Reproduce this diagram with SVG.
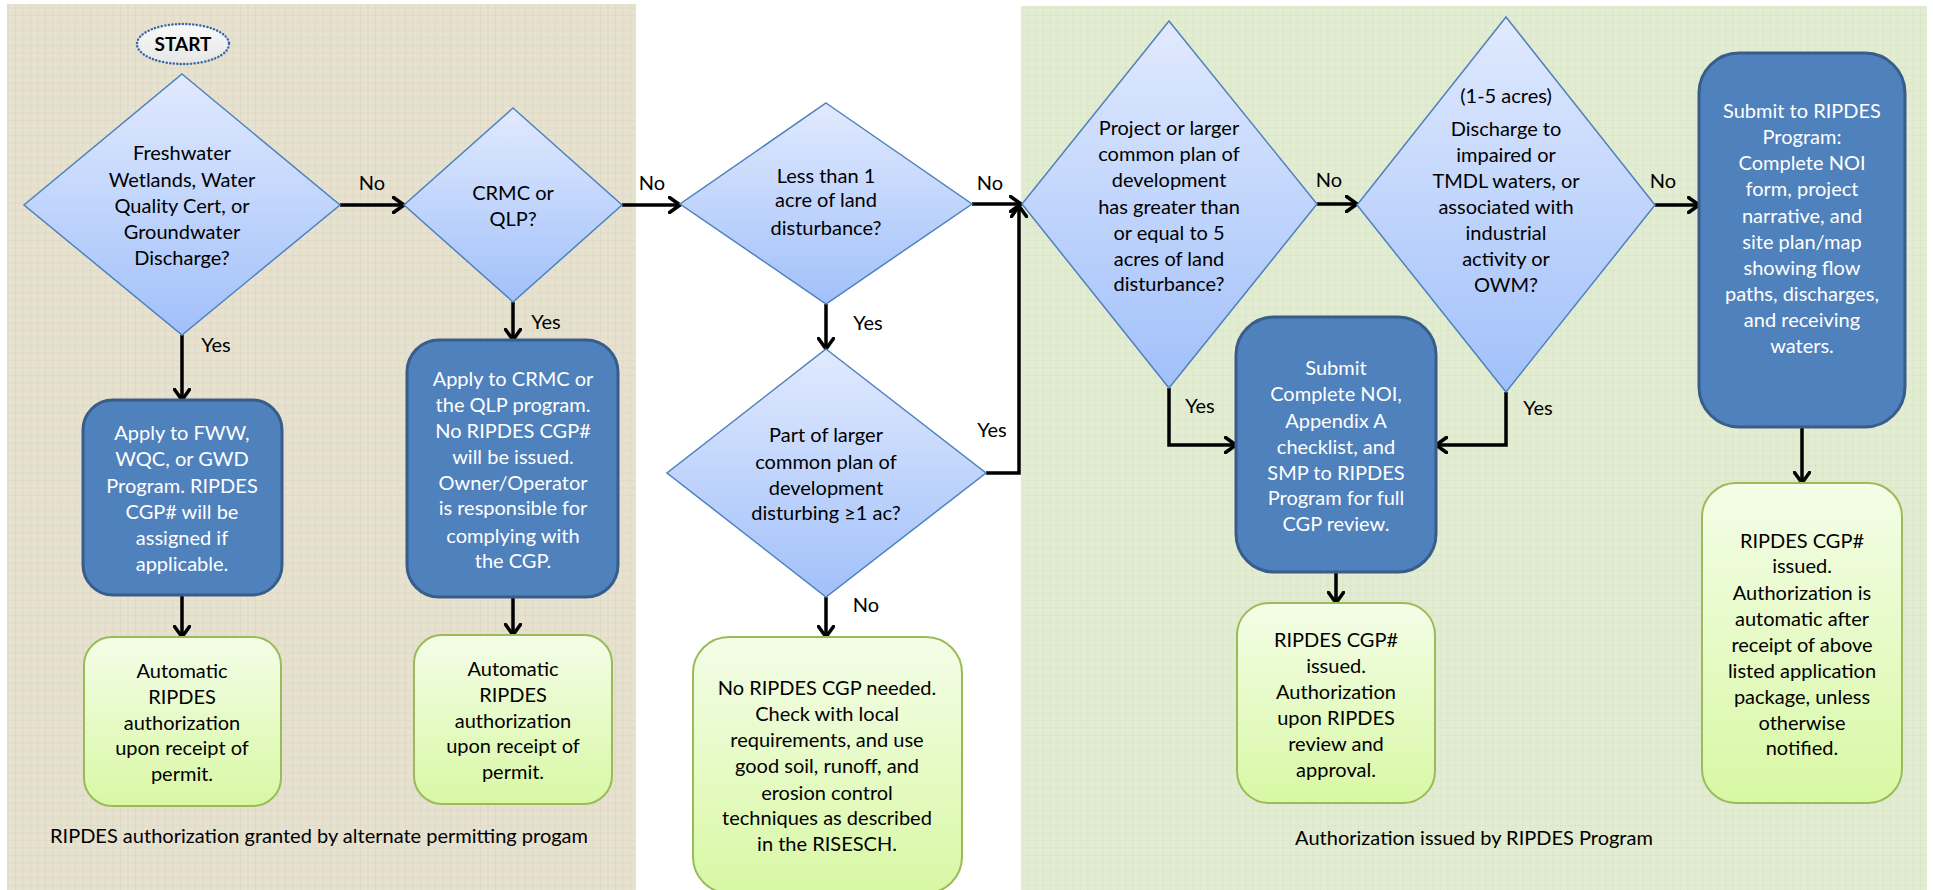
<svg xmlns="http://www.w3.org/2000/svg" width="1933" height="890" viewBox="0 0 1933 890">
<defs>
  <pattern id="gridBeige" width="7.5" height="7.5" patternUnits="userSpaceOnUse">
    <rect width="7.5" height="7.5" fill="#e7e2d0"/>
    <path d="M0,0 H7.5 M0,0 V7.5" stroke="#d9d3bd" stroke-width="1" fill="none"/>
  </pattern>
  <pattern id="gridGreen" width="7.5" height="7.5" patternUnits="userSpaceOnUse">
    <rect width="7.5" height="7.5" fill="#e2ecd2"/>
    <path d="M0,0 H7.5 M0,0 V7.5" stroke="#d5e3be" stroke-width="1" fill="none"/>
  </pattern>
  <linearGradient id="gDiamond" x1="0" y1="0" x2="0" y2="1">
    <stop offset="0" stop-color="#e1eafe"/>
    <stop offset="1" stop-color="#a1c0fa"/>
  </linearGradient>
  <linearGradient id="gGreen" x1="0" y1="0" x2="0" y2="1">
    <stop offset="0" stop-color="#f4fde8"/>
    <stop offset="1" stop-color="#d8f8a4"/>
  </linearGradient>
  <linearGradient id="gStart" x1="0" y1="0" x2="0" y2="1">
    <stop offset="0" stop-color="#fafafa"/>
    <stop offset="1" stop-color="#e6e6e6"/>
  </linearGradient>
  <marker id="arr" viewBox="0 0 14 18" refX="12" refY="9" markerWidth="14" markerHeight="18" markerUnits="userSpaceOnUse" orient="auto">
    <path d="M1.5,1.5 L12,9 L1.5,16.5" fill="none" stroke="#000" stroke-width="3.5" stroke-linecap="round" stroke-linejoin="round"/>
  </marker>
  <style>
    .t { font-family: Lato, "Liberation Sans", sans-serif; font-size: 20px; text-anchor: middle; fill: #000; }
    .w { fill: #ffffff; }
    .lbl { font-family: Lato, "Liberation Sans", sans-serif; font-size: 20px; text-anchor: middle; fill: #000; }
    .dia { fill: url(#gDiamond); stroke: #4f81bd; stroke-width: 1.5; }
    .blue { fill: #4f81bd; stroke: #385d8a; stroke-width: 3; }
    .green { fill: url(#gGreen); stroke: #9bbb59; stroke-width: 2; }
    .con { fill: none; stroke: #000; stroke-width: 3.5; marker-end: url(#arr); }
  </style>
</defs>

<rect width="1933" height="890" fill="#ffffff"/>
<g id="panels">
  <rect x="7" y="4" width="629" height="886" fill="url(#gridBeige)"/>
  <rect x="1021" y="6" width="906" height="884" fill="url(#gridGreen)"/>
</g>

<g id="connectors">
  <path class="con" d="M340,205 H404"/>
  <path class="con" d="M182,335 V400"/>
  <path class="con" d="M622,205 H680"/>
  <path class="con" d="M513,302 V340"/>
  <path class="con" d="M182,595 V637"/>
  <path class="con" d="M513,597 V635"/>
  <path class="con" d="M972,204 H1021"/>
  <path class="con" d="M826,304 V349"/>
  <path class="con" d="M986,473 H1019 V206"/>
  <path class="con" d="M826,597 V637"/>
  <path class="con" d="M1317,204 H1357"/>
  <path class="con" d="M1169,388 V445 H1236"/>
  <path class="con" d="M1506,392 V445 H1436"/>
  <path class="con" d="M1655,205 H1699"/>
  <path class="con" d="M1336,572 V603"/>
  <path class="con" d="M1802,427 V483"/>
  <text class="lbl" x="372" y="190">No</text>
  <text class="lbl" x="216" y="352">Yes</text>
  <text class="lbl" x="652" y="190">No</text>
  <text class="lbl" x="546" y="329">Yes</text>
  <text class="lbl" x="990" y="190">No</text>
  <text class="lbl" x="868" y="330">Yes</text>
  <text class="lbl" x="992" y="437">Yes</text>
  <text class="lbl" x="866" y="612">No</text>
  <text class="lbl" x="1329" y="187">No</text>
  <text class="lbl" x="1200" y="413">Yes</text>
  <text class="lbl" x="1538" y="415">Yes</text>
  <text class="lbl" x="1663" y="188">No</text>
</g>

<g id="start">
  <ellipse cx="183" cy="44" rx="46" ry="20" fill="url(#gStart)" stroke="#3d68a8" stroke-width="2.5" stroke-dasharray="0.1 3.4" stroke-linecap="round"/>
  <text class="t" x="183" y="51" style="font-weight:bold;font-size:19px">START</text>
</g>

<g id="d-freshwater">
  <polygon class="dia" points="182,74 340,205 182,335 24,205"/>
  <text class="t"><tspan x="182" y="160">Freshwater</tspan><tspan x="182" y="187">Wetlands, Water</tspan><tspan x="182" y="213">Quality Cert, or</tspan><tspan x="182" y="239">Groundwater</tspan><tspan x="182" y="265">Discharge?</tspan></text>
</g>

<g id="d-crmc">
  <polygon class="dia" points="513,108 622,205 513,302 404,205"/>
  <text class="t"><tspan x="513" y="200">CRMC or</tspan><tspan x="513" y="226">QLP?</tspan></text>
</g>

<g id="b-fww">
  <rect class="blue" x="83" y="400" width="199" height="195" rx="30"/>
  <text class="t w"><tspan x="182" y="440">Apply to FWW,</tspan><tspan x="182" y="466">WQC, or GWD</tspan><tspan x="182" y="493">Program. RIPDES</tspan><tspan x="182" y="519">CGP# will be</tspan><tspan x="182" y="545">assigned if</tspan><tspan x="182" y="571">applicable.</tspan></text>
</g>

<g id="b-crmc">
  <rect class="blue" x="407" y="340" width="211" height="257" rx="32"/>
  <text class="t w"><tspan x="513" y="386">Apply to CRMC or</tspan><tspan x="513" y="412">the QLP program.</tspan><tspan x="513" y="438">No RIPDES CGP#</tspan><tspan x="513" y="464">will be issued.</tspan><tspan x="513" y="490">Owner/Operator</tspan><tspan x="513" y="515">is responsible for</tspan><tspan x="513" y="543">complying with</tspan><tspan x="513" y="568">the CGP.</tspan></text>
</g>

<g id="g-auto1">
  <rect class="green" x="84" y="637" width="197" height="169" rx="28"/>
  <text class="t"><tspan x="182" y="678">Automatic</tspan><tspan x="182" y="704">RIPDES</tspan><tspan x="182" y="730">authorization</tspan><tspan x="182" y="755">upon receipt of</tspan><tspan x="182" y="781">permit.</tspan></text>
</g>

<g id="g-auto2">
  <rect class="green" x="414" y="635" width="198" height="169" rx="28"/>
  <text class="t"><tspan x="513" y="676">Automatic</tspan><tspan x="513" y="702">RIPDES</tspan><tspan x="513" y="728">authorization</tspan><tspan x="513" y="753">upon receipt of</tspan><tspan x="513" y="779">permit.</tspan></text>
</g>

<text id="cap-left" class="t" x="319" y="843">RIPDES authorization granted by alternate permitting progam</text>

<g id="d-less">
  <polygon class="dia" points="826,103 972,204 826,304 680,204"/>
  <text class="t"><tspan x="826" y="183">Less than 1</tspan><tspan x="826" y="207">acre of land</tspan><tspan x="826" y="235">disturbance?</tspan></text>
</g>

<g id="d-part">
  <polygon class="dia" points="826,349 986,473 826,597 667,473"/>
  <text class="t"><tspan x="826" y="442">Part of larger</tspan><tspan x="826" y="469">common plan of</tspan><tspan x="826" y="495">development</tspan><tspan x="826" y="520">disturbing ≥1 ac?</tspan></text>
</g>

<g id="g-none">
  <rect class="green" x="693" y="637" width="269" height="256" rx="36"/>
  <text class="t"><tspan x="827" y="695">No RIPDES CGP needed.</tspan><tspan x="827" y="721">Check with local</tspan><tspan x="827" y="747">requirements, and use</tspan><tspan x="827" y="773">good soil, runoff, and</tspan><tspan x="827" y="800">erosion control</tspan><tspan x="827" y="825">techniques as described</tspan><tspan x="827" y="851">in the RISESCH.</tspan></text>
</g>

<g id="d-project">
  <polygon class="dia" points="1169,21 1317,204 1169,388 1022,204"/>
  <text class="t"><tspan x="1169" y="135">Project or larger</tspan><tspan x="1169" y="161">common plan of</tspan><tspan x="1169" y="187">development</tspan><tspan x="1169" y="214">has greater than</tspan><tspan x="1169" y="240">or equal to 5</tspan><tspan x="1169" y="266">acres of land</tspan><tspan x="1169" y="291">disturbance?</tspan></text>
</g>

<g id="d-discharge">
  <polygon class="dia" points="1506,17 1655,205 1506,392 1357,205"/>
  <text class="t"><tspan x="1506" y="103">(1-5 acres)</tspan><tspan x="1506" y="136">Discharge to</tspan><tspan x="1506" y="162">impaired or</tspan><tspan x="1506" y="188">TMDL waters, or</tspan><tspan x="1506" y="214">associated with</tspan><tspan x="1506" y="240">industrial</tspan><tspan x="1506" y="266">activity or</tspan><tspan x="1506" y="292">OWM?</tspan></text>
</g>

<g id="b-submit">
  <rect class="blue" x="1236" y="317" width="200" height="255" rx="38"/>
  <text class="t w"><tspan x="1336" y="375">Submit</tspan><tspan x="1336" y="401">Complete NOI,</tspan><tspan x="1336" y="428">Appendix A</tspan><tspan x="1336" y="454">checklist, and</tspan><tspan x="1336" y="480">SMP to RIPDES</tspan><tspan x="1336" y="505">Program for full</tspan><tspan x="1336" y="531">CGP review.</tspan></text>
</g>

<g id="g-review">
  <rect class="green" x="1237" y="603" width="198" height="200" rx="32"/>
  <text class="t"><tspan x="1336" y="647">RIPDES CGP#</tspan><tspan x="1336" y="673">issued.</tspan><tspan x="1336" y="699">Authorization</tspan><tspan x="1336" y="725">upon RIPDES</tspan><tspan x="1336" y="751">review and</tspan><tspan x="1336" y="777">approval.</tspan></text>
</g>

<g id="b-submit2">
  <rect class="blue" x="1699" y="53" width="206" height="374" rx="40"/>
  <text class="t w"><tspan x="1802" y="118">Submit to RIPDES</tspan><tspan x="1802" y="144">Program:</tspan><tspan x="1802" y="170">Complete NOI</tspan><tspan x="1802" y="196">form, project</tspan><tspan x="1802" y="223">narrative, and</tspan><tspan x="1802" y="249">site plan/map</tspan><tspan x="1802" y="275">showing flow</tspan><tspan x="1802" y="301">paths, discharges,</tspan><tspan x="1802" y="327">and receiving</tspan><tspan x="1802" y="353">waters.</tspan></text>
</g>

<g id="g-auto3">
  <rect class="green" x="1702" y="483" width="200" height="320" rx="34"/>
  <text class="t"><tspan x="1802" y="548">RIPDES CGP#</tspan><tspan x="1802" y="573">issued.</tspan><tspan x="1802" y="600">Authorization is</tspan><tspan x="1802" y="626">automatic after</tspan><tspan x="1802" y="652">receipt of above</tspan><tspan x="1802" y="678">listed application</tspan><tspan x="1802" y="704">package, unless</tspan><tspan x="1802" y="730">otherwise</tspan><tspan x="1802" y="755">notified.</tspan></text>
</g>

<text id="cap-right" class="t" x="1474" y="845">Authorization issued by RIPDES Program</text>
</svg>
